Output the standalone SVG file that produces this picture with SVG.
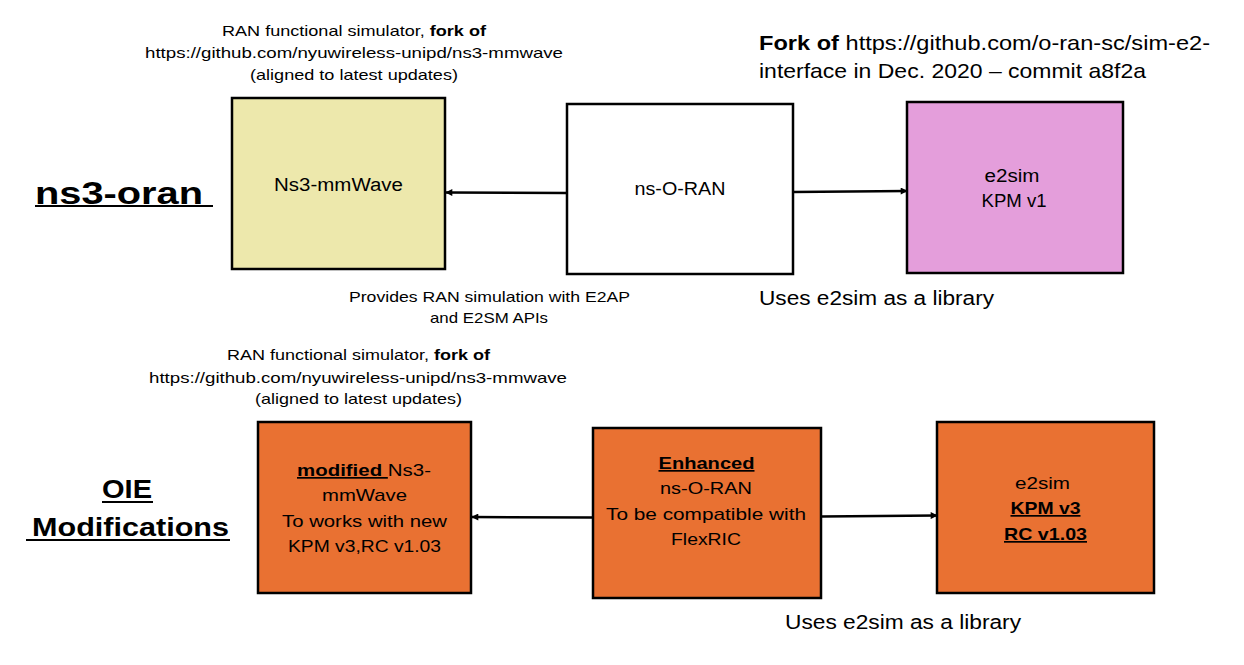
<svg xmlns="http://www.w3.org/2000/svg" width="1244" height="665" viewBox="0 0 1244 665">
<style>
  text { font-family: "Liberation Sans", Arial, sans-serif; fill: #000; }
  .cap { font-size: 15px; }
  .lbl { font-size: 18px; }
  .lbl2 { font-size: 17px; }
  .note { font-size: 20px; }
  .b { font-weight: bold; }
  .u { text-decoration: underline; }
  .box { stroke: #000; stroke-width: 2.5; }
  .conn { stroke: #000; stroke-width: 2.5; fill: none; marker-end: url(#arr); }
</style>
<defs>
  <marker id="arr" viewBox="0 0 10 10" refX="9" refY="5" markerWidth="8" markerHeight="7" markerUnits="userSpaceOnUse" orient="auto">
    <path d="M0,0 L10,5 L0,10 z" fill="#000"/>
  </marker>
</defs>
<rect width="1244" height="665" fill="#fff"/>

<g id="title-ns3oran">
  <text x="35" y="204" font-size="32" class="b" textLength="168" lengthAdjust="spacingAndGlyphs">ns3-oran</text>
  <line x1="35" y1="206" x2="213" y2="206" stroke="#000" stroke-width="2"/>
</g>

<g id="caption-top-left" class="cap" text-anchor="middle">
  <text class="cap" x="354" y="36" textLength="264" lengthAdjust="spacingAndGlyphs">RAN functional simulator, <tspan class="b">fork of</tspan></text>
  <text class="cap" x="354" y="58" textLength="418" lengthAdjust="spacingAndGlyphs">https://github.com/nyuwireless-unipd/ns3-mmwave</text>
  <text class="cap" x="354" y="80" textLength="208" lengthAdjust="spacingAndGlyphs">(aligned to latest updates)</text>
</g>

<g id="caption-top-right">
  <text x="759" y="50" font-size="21" textLength="451" lengthAdjust="spacingAndGlyphs"><tspan class="b">Fork of</tspan> https://github.com/o-ran-sc/sim-e2-</text>
  <text x="759" y="78" font-size="21" textLength="387" lengthAdjust="spacingAndGlyphs">interface in Dec. 2020 – commit a8f2a</text>
</g>

<g id="node-ns3-mmwave">
  <rect class="box" x="232" y="98" width="213" height="171" fill="#EDE8AC"/>
  <text class="lbl" x="338.5" y="191" text-anchor="middle" textLength="129" lengthAdjust="spacingAndGlyphs">Ns3-mmWave</text>
</g>

<g id="node-ns-o-ran">
  <rect class="box" x="567" y="104" width="226" height="170" fill="#fff"/>
  <text class="lbl" x="680" y="195" text-anchor="middle" textLength="91" lengthAdjust="spacingAndGlyphs">ns-O-RAN</text>
</g>

<g id="node-e2sim">
  <rect class="box" x="907" y="102" width="216" height="171" fill="#E49EDB"/>
  <text class="lbl" x="1012" y="182" text-anchor="middle" textLength="55" lengthAdjust="spacingAndGlyphs">e2sim</text>
  <text class="lbl" x="1014" y="207" text-anchor="middle" textLength="65" lengthAdjust="spacingAndGlyphs">KPM v1</text>
</g>

<g id="caption-provides" text-anchor="middle">
  <text class="cap" x="489.5" y="302" textLength="281" lengthAdjust="spacingAndGlyphs">Provides RAN simulation with E2AP</text>
  <text class="cap" x="489" y="323" textLength="118" lengthAdjust="spacingAndGlyphs">and E2SM APIs</text>
</g>

<g id="caption-uses-top">
  <text class="note" x="759" y="305" textLength="235" lengthAdjust="spacingAndGlyphs">Uses e2sim as a library</text>
</g>

<g id="title-oie">
  <text x="127" y="498" font-size="26" class="b" text-anchor="middle" textLength="50" lengthAdjust="spacingAndGlyphs">OIE</text>
  <line x1="102" y1="502" x2="153" y2="502" stroke="#000" stroke-width="2"/>
  <text x="32" y="536" font-size="26" class="b" textLength="197" lengthAdjust="spacingAndGlyphs">Modifications</text>
  <line x1="26" y1="540" x2="230" y2="540" stroke="#000" stroke-width="2"/>
</g>

<g id="caption-bottom-left" text-anchor="middle">
  <text class="cap" x="358.5" y="360" textLength="263" lengthAdjust="spacingAndGlyphs">RAN functional simulator, <tspan class="b">fork of</tspan></text>
  <text class="cap" x="358" y="383" textLength="418" lengthAdjust="spacingAndGlyphs">https://github.com/nyuwireless-unipd/ns3-mmwave</text>
  <text class="cap" x="358.5" y="404" textLength="207" lengthAdjust="spacingAndGlyphs">(aligned to latest updates)</text>
</g>

<g id="node-modified-ns3">
  <rect class="box" x="258" y="422" width="213" height="171" fill="#E97132"/>
  <g text-anchor="middle">
    <text class="lbl2" x="364" y="476" textLength="134" lengthAdjust="spacingAndGlyphs"><tspan class="b u">modified </tspan>Ns3-</text>
    <text class="lbl2" x="364.5" y="501" textLength="85" lengthAdjust="spacingAndGlyphs">mmWave</text>
    <text class="lbl2" x="364.5" y="527" textLength="165" lengthAdjust="spacingAndGlyphs">To works with new</text>
    <text class="lbl2" x="364.5" y="552" textLength="153" lengthAdjust="spacingAndGlyphs">KPM v3,RC v1.03</text>
  </g>
</g>

<g id="node-enhanced-ns-o-ran">
  <rect class="box" x="593" y="428" width="228" height="170" fill="#E97132"/>
  <g text-anchor="middle">
    <text class="lbl2 b u" x="706.5" y="469" textLength="96" lengthAdjust="spacingAndGlyphs">Enhanced</text>
    <text class="lbl2" x="706" y="494" textLength="92" lengthAdjust="spacingAndGlyphs">ns-O-RAN</text>
    <text class="lbl2" x="706" y="520" textLength="200" lengthAdjust="spacingAndGlyphs">To be compatible with</text>
    <text class="lbl2" x="706" y="545" textLength="70" lengthAdjust="spacingAndGlyphs">FlexRIC</text>
  </g>
</g>

<g id="node-e2sim-v3">
  <rect class="box" x="937" y="422" width="217" height="171" fill="#E97132"/>
  <g text-anchor="middle">
    <text class="lbl2" x="1042.5" y="489" textLength="55" lengthAdjust="spacingAndGlyphs">e2sim</text>
    <text class="lbl2 b u" x="1045.5" y="514" textLength="70" lengthAdjust="spacingAndGlyphs">KPM v3</text>
    <text class="lbl2 b u" x="1045.5" y="540" textLength="83" lengthAdjust="spacingAndGlyphs">RC v1.03</text>
  </g>
</g>

<g id="caption-uses-bottom">
  <text class="note" x="785" y="629" textLength="236" lengthAdjust="spacingAndGlyphs">Uses e2sim as a library</text>
</g>

<g id="connectors">
  <line class="conn" x1="567" y1="193" x2="446" y2="192.5"/>
  <line class="conn" x1="793" y1="192" x2="907" y2="191"/>
  <line class="conn" x1="593" y1="517.5" x2="472" y2="517"/>
  <line class="conn" x1="821" y1="516.5" x2="937" y2="515.5"/>
</g>
</svg>
